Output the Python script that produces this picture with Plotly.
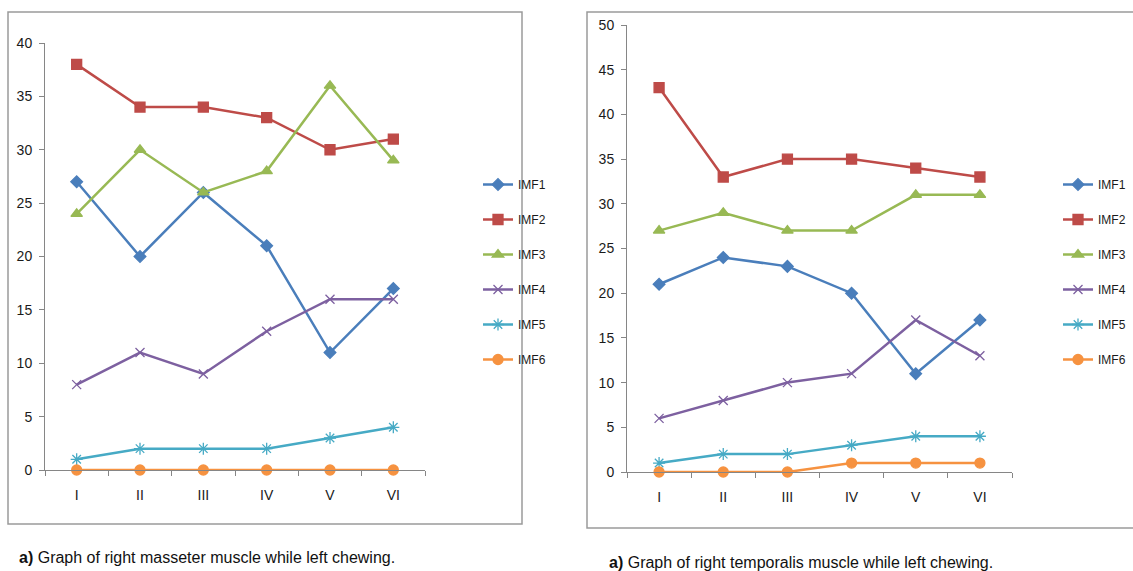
import plotly.graph_objects as go

W, H = 1133, 571

categories = ["I", "II", "III", "IV", "V", "VI"]
series_names = ["IMF1", "IMF2", "IMF3", "IMF4", "IMF5", "IMF6"]

# Right masseter muscle while left chewing
masseter_imf1 = [27, 20, 26, 21, 11, 17]
masseter_imf2 = [38, 34, 34, 33, 30, 31]
masseter_imf3 = [24, 30, 26, 28, 36, 29]
masseter_imf4 = [8, 11, 9, 13, 16, 16]
masseter_imf5 = [1, 2, 2, 2, 3, 4]
masseter_imf6 = [0, 0, 0, 0, 0, 0]

# Right temporalis muscle while left chewing
temporalis_imf1 = [21, 24, 23, 20, 11, 17]
temporalis_imf2 = [43, 33, 35, 35, 34, 33]
temporalis_imf3 = [27, 29, 27, 27, 31, 31]
temporalis_imf4 = [6, 8, 10, 11, 17, 13]
temporalis_imf5 = [1, 2, 2, 3, 4, 4]
temporalis_imf6 = [0, 0, 0, 1, 1, 1]

masseter = [masseter_imf1, masseter_imf2, masseter_imf3,
            masseter_imf4, masseter_imf5, masseter_imf6]
temporalis = [temporalis_imf1, temporalis_imf2, temporalis_imf3,
              temporalis_imf4, temporalis_imf5, temporalis_imf6]

colors = ["#4A7EBB", "#BE4B48", "#98B954", "#7D60A0", "#46AAC5", "#F69240"]
symbols = ["diamond", "square", "triangle-up", "x-thin-open", "asterisk-open", "circle"]
sizes = [9, 10, 10, 9, 10, 10]

FONT = "Liberation Sans, Arial, sans-serif"


def px(x):
    return x / W


def py(y):
    return 1 - y / H


fig = go.Figure()

for data, xa, ya, leg in [
    (masseter, "x", "y", "legend"),
    (temporalis, "x2", "y2", "legend2"),
]:
    for i, name in enumerate(series_names):
        fig.add_trace(go.Scatter(
            x=categories, y=data[i], name=name, mode="lines+markers",
            xaxis=xa, yaxis=ya, legend=leg, legendgroup=f"{leg}-{name}",
            cliponaxis=False,
            line=dict(color=colors[i], width=2.5),
            marker=dict(symbol=symbols[i], size=sizes[i], color=colors[i],
                        line=dict(color=colors[i], width=1.3)),
        ))

axis_common = dict(
    showgrid=False, zeroline=False, showline=True, linecolor="#868686",
    linewidth=1, ticks="outside", tickcolor="#868686", ticklen=5,
    automargin=False,
    tickfont=dict(family=FONT, size=14, color="#1a1a1a"),
)

legend_common = dict(
    xanchor="left", yanchor="top", bgcolor="rgba(0,0,0,0)",
    tracegroupgap=16, itemwidth=30,
    font=dict(family=FONT, size=12, color="#1a1a1a"),
)

fig.update_layout(
    template="none",
    width=W, height=H, margin=dict(l=0, r=0, t=0, b=0, pad=0),
    paper_bgcolor="white", plot_bgcolor="white",
    font=dict(family=FONT, size=13, color="#1a1a1a"),
    xaxis=dict(domain=[px(45), px(425)], anchor="y", type="category",
               range=[-0.5, 5.5], tickson="boundaries", ticklabelstandoff=12,
               **axis_common),
    yaxis=dict(domain=[py(470), py(43)], anchor="x", range=[0, 40],
               dtick=5, ticklabelstandoff=4, **axis_common),
    xaxis2=dict(domain=[px(627), px(1012)], anchor="y2", type="category",
                range=[-0.5, 5.5], tickson="boundaries", ticklabelstandoff=12,
                **axis_common),
    yaxis2=dict(domain=[py(472), py(25)], anchor="x2", range=[0, 50],
                dtick=5, ticklabelstandoff=4, **axis_common),
    legend=dict(x=px(478), y=py(170), **legend_common),
    legend2=dict(x=px(1058), y=py(170), **legend_common),
    showlegend=True,
)

# Panel frames
fig.add_shape(type="rect", xref="paper", yref="paper",
              x0=px(8), x1=px(522), y0=py(524), y1=py(12),
              line=dict(color="#9a9a9a", width=1.5), fillcolor="rgba(0,0,0,0)")
fig.add_shape(type="rect", xref="paper", yref="paper",
              x0=px(587), x1=px(1140), y0=py(528), y1=py(12),
              line=dict(color="#9a9a9a", width=1.5), fillcolor="rgba(0,0,0,0)")

# Captions
fig.add_annotation(xref="paper", yref="paper", x=px(17), y=py(557),
                   xanchor="left", yanchor="middle", showarrow=False,
                   text="<b>a)</b> Graph of right masseter muscle while left chewing.",
                   font=dict(family=FONT, size=16, color="#111111"))
fig.add_annotation(xref="paper", yref="paper", x=px(607), y=py(562),
                   xanchor="left", yanchor="middle", showarrow=False,
                   text="<b>a)</b> Graph of right temporalis muscle while left chewing.",
                   font=dict(family=FONT, size=16, color="#111111"))

fig.write_html("out.html")
